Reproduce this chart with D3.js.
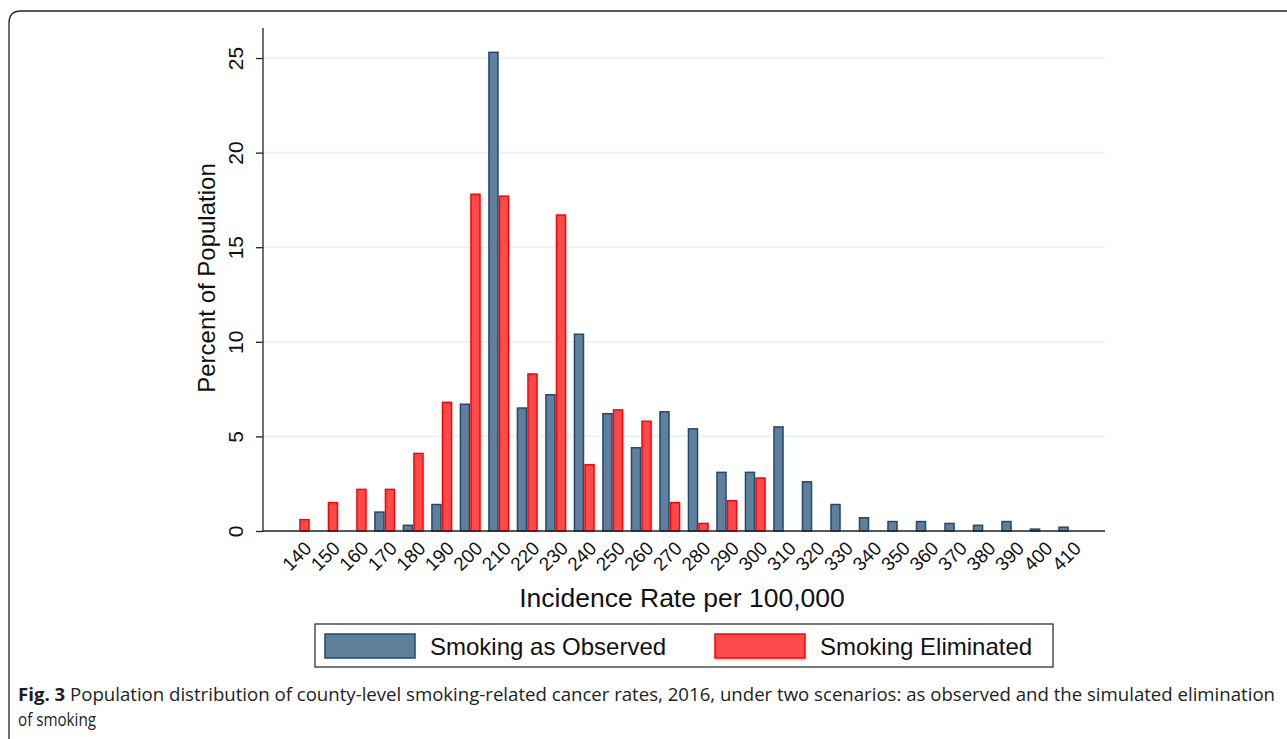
<!DOCTYPE html>
<html><head><meta charset="utf-8">
<script src="https://cdn.jsdelivr.net/npm/d3@7"></script>
<style>body{margin:0;background:#fff}svg{display:block}</style>
</head><body>
<svg id="c" width="1287" height="739"></svg>
<script>
const categories = [140,150,160,170,180,190,200,210,220,230,240,250,260,270,280,290,300,310,320,330,340,350,360,370,380,390,400,410];
const observed   = [0,0,0,1.0,0.3,1.4,6.7,25.3,6.5,7.2,10.4,6.2,4.4,6.3,5.4,3.1,3.1,5.5,2.6,1.4,0.7,0.5,0.5,0.4,0.3,0.5,0.1,0.2];
const eliminated = [0.6,1.5,2.2,2.2,4.1,6.8,17.8,17.7,8.3,16.7,3.5,6.4,5.8,1.5,0.4,1.6,2.8,0,0,0,0,0,0,0,0,0,0,0];
const yTicks = [0,5,10,15,20,25];
const seriesNames = ["Smoking as Observed","Smoking Eliminated"];
const seriesKeys = ["obs","elim"];
const fills = ["#5f7f9b","#ff4a4c"];
const strokes = ["#1f4a74","#ff0000"];

const svg = d3.select("#c");
const L = 263, R = 1105, T = 28, B = 531;
const FONT = "Liberation Sans, Arial, sans-serif";

// outer frame
svg.append("path")
  .attr("d", `M9,745 L9,23 Q9,11 21,11 L1295,11`)
  .attr("fill","none").attr("stroke","#222").attr("stroke-width",1.3);

const x = d3.scaleBand().domain(categories).range([L,R]).paddingInner(0.26).paddingOuter(0.9);
const xs = d3.scaleBand().domain(seriesKeys).range([0,x.bandwidth()]);
const y = d3.scaleLinear().domain([0,25]).range([B,58]);

// gridlines
svg.append("g").selectAll("line").data(yTicks.filter(d=>d>0)).join("line")
  .attr("x1",L).attr("x2",R).attr("y1",d=>y(d)).attr("y2",d=>y(d))
  .attr("stroke","#eaf0f3").attr("stroke-width",1.6);

// bars
const rows = categories.map((c,i)=>({c, obs:observed[i], elim:eliminated[i]}));
seriesKeys.forEach((k,si)=>{
  svg.append("g").selectAll("rect").data(rows.filter(r=>r[k]>0)).join("rect")
    .attr("x",d=>x(d.c)+xs(k)+0.75)
    .attr("width",xs.bandwidth()-1.5)
    .attr("y",d=>y(d[k]))
    .attr("height",d=>B-y(d[k]))
    .attr("fill",fills[si]).attr("stroke",strokes[si]).attr("stroke-width",1.5);
});

// y axis
const ya = svg.append("g").attr("transform",`translate(${L},0)`)
  .call(d3.axisLeft(y).tickValues(yTicks).tickSize(7).tickSizeOuter(0));
ya.select(".domain").remove();
ya.selectAll(".tick line").attr("stroke","#222").attr("stroke-width",1.3);
ya.selectAll(".tick text").attr("font-family",FONT).attr("font-size",21)
  .attr("fill","#111").attr("text-anchor","middle").attr("x",0).attr("dy",0).attr("y",0)
  .attr("transform","translate(-20,0) rotate(-90)");
svg.append("line").attr("x1",L).attr("x2",L).attr("y1",T).attr("y2",B+1).attr("stroke","#222").attr("stroke-width",1.3);

// x axis
const xa = svg.append("g").attr("transform",`translate(0,${B})`)
  .call(d3.axisBottom(x).tickSize(0).tickSizeOuter(0));
xa.select(".domain").remove();
xa.selectAll(".tick text").attr("font-family",FONT).attr("font-size",19)
  .attr("fill","#111").attr("text-anchor","end").attr("y",0).attr("dy",0)
  .attr("transform","translate(10,15) rotate(-45)").attr("dominant-baseline","middle");
svg.append("line").attr("x1",L).attr("x2",R).attr("y1",B).attr("y2",B).attr("stroke","#222").attr("stroke-width",1.5);

// axis titles
svg.append("text").attr("x",682).attr("y",607).attr("text-anchor","middle")
  .attr("font-family",FONT).attr("font-size",26.5).attr("fill","#111")
  .text("Incidence Rate per 100,000");
svg.append("text").attr("transform",`translate(215,278) rotate(-90)`).attr("text-anchor","middle")
  .attr("font-family",FONT).attr("font-size",24).attr("fill","#111")
  .text("Percent of Population");

// legend
const lg = svg.append("g");
lg.append("rect").attr("x",315).attr("y",624).attr("width",738).attr("height",43)
  .attr("fill","#fff").attr("stroke","#222").attr("stroke-width",1.2);
const lx = [325,715];
seriesNames.forEach((n,i)=>{
  lg.append("rect").attr("x",lx[i]).attr("y",634).attr("width",90).attr("height",24)
    .attr("fill",fills[i]).attr("stroke",strokes[i]).attr("stroke-width",1.5);
  lg.append("text").attr("x",lx[i]+105).attr("y",655)
    .attr("font-family",FONT).attr("font-size",24).attr("fill","#111").text(n);
});

// caption
const cap = svg.append("text").attr("x",18).attr("y",701)
  .attr("font-family","Open Sans, sans-serif").attr("font-size",18).attr("fill","#222")
  .attr("textLength",1257).attr("lengthAdjust","spacingAndGlyphs");
cap.append("tspan").attr("font-weight","bold").attr("fill","#1d1d1d").text("Fig. 3");
cap.append("tspan").text(" Population distribution of county-level smoking-related cancer rates, 2016, under two scenarios: as observed and the simulated elimination");
svg.append("text").attr("x",18).attr("y",726)
  .attr("font-family","Open Sans, sans-serif").attr("font-size",18).attr("fill","#222")
  .attr("textLength",78).attr("lengthAdjust","spacingAndGlyphs")
  .text("of smoking");
</script>
</body></html>
